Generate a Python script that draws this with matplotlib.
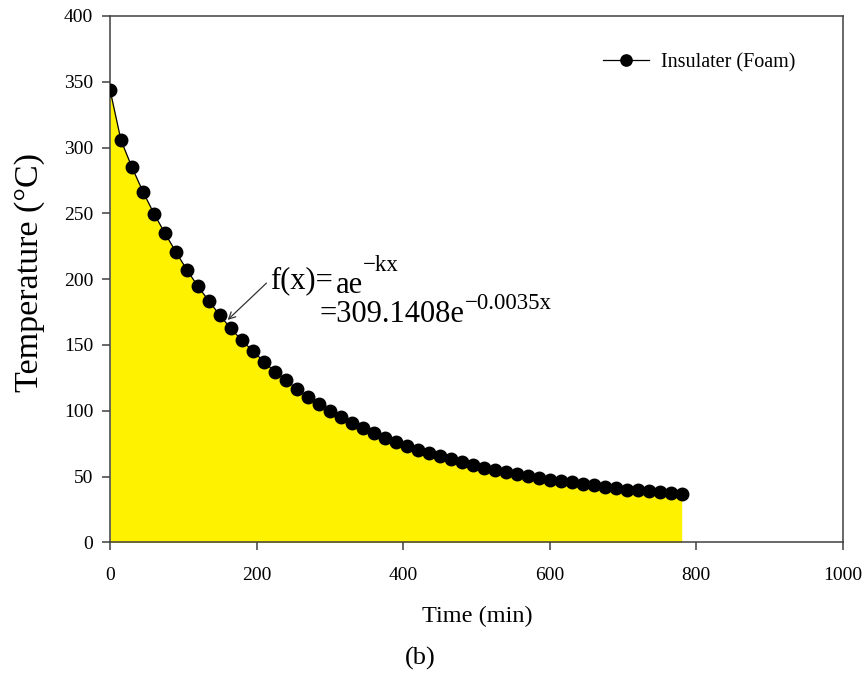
import matplotlib
matplotlib.use("Agg")
import matplotlib.pyplot as plt

plt.rcParams['font.family'] = ['Liberation Serif', 'DejaVu Serif']

# cooling curve of the foam insulator, one reading every 15 min
time_min = [0, 15, 30, 45, 60, 75, 90, 105, 120, 135, 150, 165, 180, 195,
            210, 225, 240, 255, 270, 285, 300, 315, 330, 345, 360, 375, 390,
            405, 420, 435, 450, 465, 480, 495, 510, 525, 540, 555, 570, 585,
            600, 615, 630, 645, 660, 675, 690, 705, 720, 735, 750, 765, 780]
temp_c = [344.1, 305.6, 285.0, 266.5, 249.8, 234.9, 220.6, 207.0, 194.5,
          183.4, 172.4, 162.5, 153.4, 145.4, 137.3, 129.6, 123.3, 116.6,
          110.8, 105.2, 100.1, 95.6, 91.0, 87.0, 83.2, 79.6, 76.3, 73.3,
          70.5, 67.7, 65.5, 63.1, 60.9, 59.0, 56.8, 55.0, 53.5, 52.0, 50.2,
          48.7, 47.4, 46.6, 45.6, 44.1, 43.4, 42.1, 41.1, 40.0, 39.6, 38.8,
          38.3, 37.5, 37.0]
series_name = "Insulater (Foam)"

x_ticks = [0, 200, 400, 600, 800, 1000]
y_ticks = [0, 50, 100, 150, 200, 250, 300, 350, 400]

fig = plt.figure(figsize=(8.66, 6.75), dpi=100)
ax = fig.add_axes([0.127, 0.1966, 0.8464, 0.7797])

ax.fill_between(time_min, 0, temp_c, color='#FFF200', linewidth=0, zorder=1)
ax.plot(time_min, temp_c, color='black', linewidth=0.9, marker='o',
        markersize=9, markerfacecolor='black', markeredgecolor='black',
        label=series_name, zorder=3)

ax.set_xlim(0, 1000)
ax.set_ylim(0, 400)
ax.set_xticks(x_ticks)
ax.set_yticks(y_ticks)
ax.tick_params(direction='out', length=6, width=1.1, color='#404040',
               labelsize=14, pad=6)
ax.tick_params(axis='x', pad=12)
for sp in ax.spines.values():
    sp.set_color('#404040')
    sp.set_linewidth(1.1)

ax.set_ylabel("Temperature (°C)", fontsize=24.5)
ax.yaxis.set_label_coords(-0.089, 0.512)
fig.text(477 / 866, 1 - 616 / 675, "Time (min)", fontsize=17.5,
         ha='center', va='center')
fig.text(420 / 866, 1 - 658 / 675, "(b)", fontsize=19,
         ha='center', va='center')

# fitted exponential, exponents set right after their base text
renderer = fig.canvas.get_renderer()
to_data = ax.transData.inverted()


def right_edge(txt):
    bb = txt.get_window_extent(renderer)
    return to_data.transform((bb.x1, bb.y0))[0]


t1 = ax.text(218, 193.3, "f(x)=", fontsize=22, ha='left', va='baseline')
t2 = ax.text(right_edge(t1) + 4, 189.4, "ae", fontsize=22,
             ha='left', va='baseline')
ax.text(right_edge(t2), 206.4, "−kx", fontsize=16.5, ha='left', va='baseline')
t4 = ax.text(286.4, 167.7, "=309.1408e", fontsize=22, ha='left', va='baseline')
ax.text(right_edge(t4), 177.3, "−0.0035x", fontsize=16.5,
        ha='left', va='baseline')
ax.annotate("", xy=(160.5, 169), xytext=(213.5, 197),
            arrowprops=dict(arrowstyle='->', color='#333333', lw=0.9,
                            mutation_scale=12, shrinkA=0, shrinkB=0))

ax.legend(loc='center left', bbox_to_anchor=(0.6726, 0.911), frameon=False,
          fontsize=14.5, handlelength=2.3, handletextpad=0.6, borderpad=0,
          borderaxespad=0, markerscale=0.9)

fig.savefig("out.png", dpi=100)
